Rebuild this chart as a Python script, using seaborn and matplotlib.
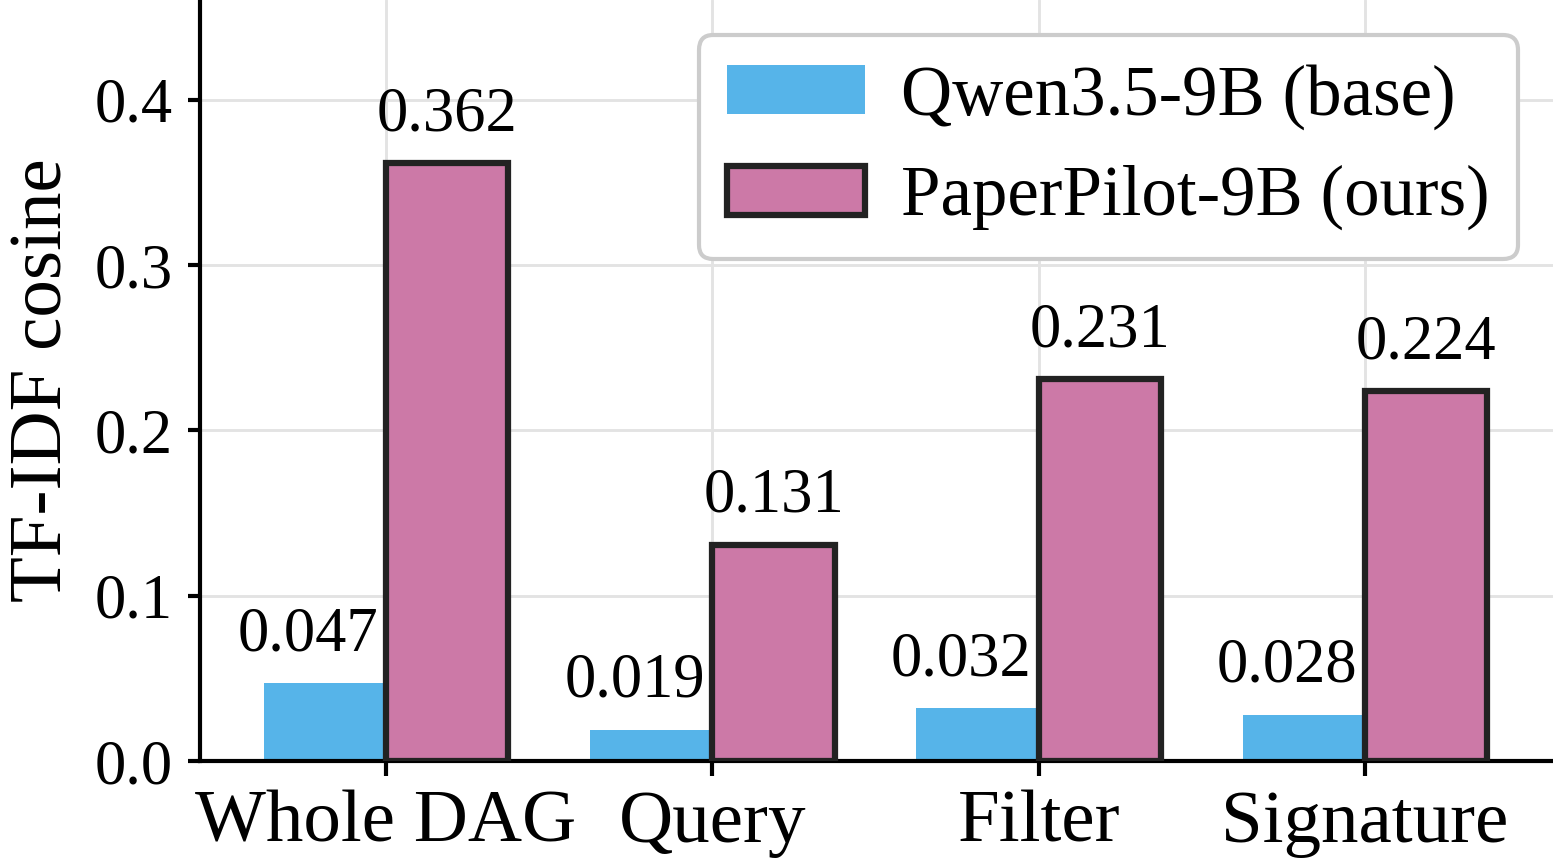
import numpy as np
import pandas as pd
import matplotlib
matplotlib.use("Agg")
import matplotlib.pyplot as plt
import seaborn as sns

categories = ["Whole DAG", "Query", "Filter", "Signature"]
models = ["Qwen3.5-9B (base)", "PaperPilot-9B (ours)"]
base_values = [0.047, 0.019, 0.032, 0.028]
ours_values = [0.362, 0.131, 0.231, 0.224]
yticks = [0.0, 0.1, 0.2, 0.3, 0.4]
colors = ["#56B4E9", "#CC79A7"]

sns.set_style("ticks")
plt.rcParams["font.family"] = ["Liberation Serif", "DejaVu Serif"]
plt.rcParams["mathtext.fontset"] = "stix"
plt.rcParams["text.color"] = "black"
plt.rcParams["axes.labelcolor"] = "black"
plt.rcParams["xtick.color"] = "black"
plt.rcParams["ytick.color"] = "black"

df = pd.DataFrame({
    "category": categories * 2,
    "model": [models[0]] * len(categories) + [models[1]] * len(categories),
    "value": base_values + ours_values,
})

fig = plt.figure(figsize=(1553 / 300, 860 / 300), dpi=300)
ax = fig.add_axes([200 / 1553, 99 / 860, 1353 / 1553, 761 / 860])

sns.barplot(data=df, x="category", y="value", hue="model", order=categories,
            hue_order=models, palette=colors, saturation=1, width=0.75,
            errorbar=None, ax=ax, legend=False)

base_c, ours_c = ax.containers[0], ax.containers[1]
for p in base_c.patches:
    p.set_edgecolor("none")
    p.set_linewidth(0)
for p in ours_c.patches:
    p.set_edgecolor("#222222")
    p.set_linewidth(1.5)
    p.set_zorder(3)

for p, v in zip(base_c.patches, base_values):
    ax.annotate(f"{v:.3f}", (p.get_x() + p.get_width() / 2, p.get_height()),
                xytext=(-4, 4.5), textcoords="offset points",
                ha="center", va="bottom", fontsize=15, color="black")
for p, v in zip(ours_c.patches, ours_values):
    ax.annotate(f"{v:.3f}", (p.get_x() + p.get_width() / 2, p.get_height()),
                xytext=(0, 4.5), textcoords="offset points",
                ha="center", va="bottom", fontsize=15, color="black")

ax.set_xlim(-0.57, 3.576)
ax.set_ylim(0, 0.4605)
ax.set_yticks(yticks)
ax.set_yticklabels([f"{t:.1f}" for t in yticks])
ax.set_xlabel("")
ax.set_ylabel("TF-IDF cosine", fontsize=18, color="black")
ax.tick_params(axis="y", labelsize=15, length=3, width=1, colors="black")
ax.tick_params(axis="x", labelsize=18, length=3.5, width=1, colors="black")
ax.grid(True, color="#e3e3e3", linewidth=0.7)
ax.set_axisbelow(True)
for s in ["top", "right"]:
    ax.spines[s].set_visible(False)
for s in ["left", "bottom"]:
    ax.spines[s].set_linewidth(1.0)
    ax.spines[s].set_color("black")

leg = ax.legend(handles=[base_c, ours_c], labels=models, loc="upper right",
                fontsize=17, frameon=True, fancybox=True, framealpha=1,
                edgecolor="#cccccc", handlelength=1.95, handletextpad=0.5,
                borderaxespad=0.5)
leg.get_frame().set_linewidth(1.0)
for t in leg.get_texts():
    t.set_color("black")

fig.savefig("out.png", dpi=300)
